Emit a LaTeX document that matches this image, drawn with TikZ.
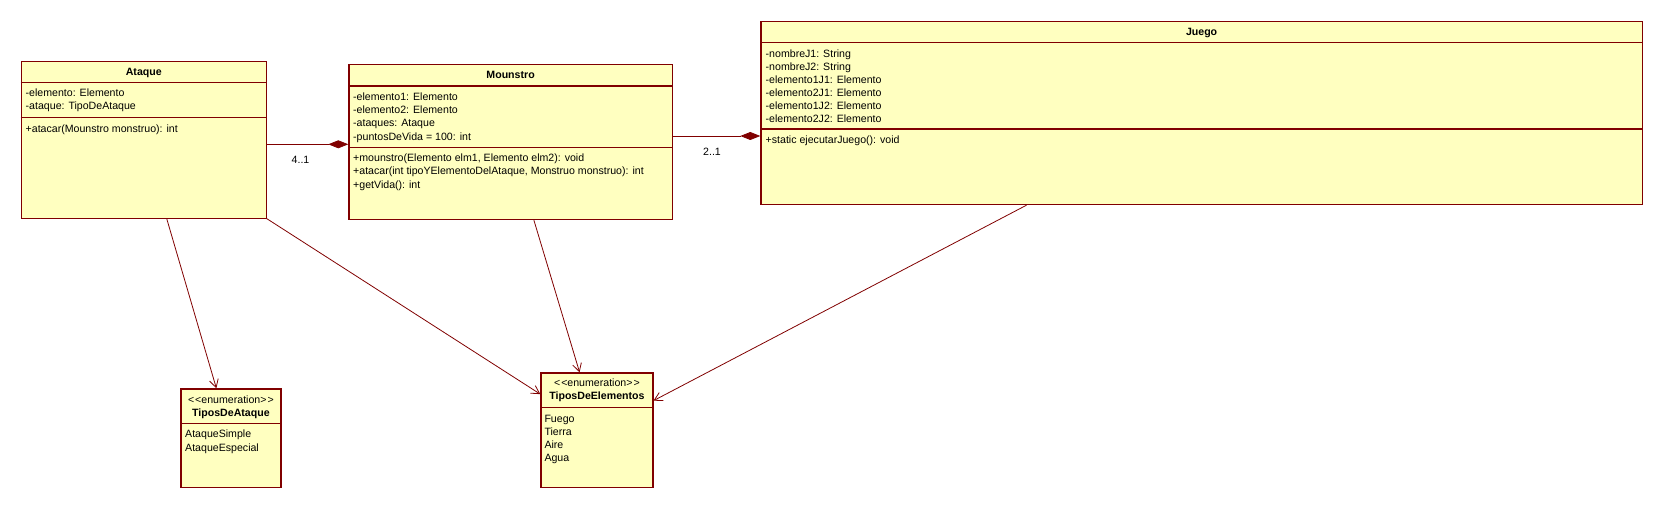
\documentclass[tikz,border=0pt]{standalone}
\usepackage{fontspec}
\setmainfont{Liberation Sans}
\usetikzlibrary{arrows.meta}
\definecolor{umlred}{RGB}{128,0,0}
\definecolor{umlfill}{RGB}{255,255,192}
\begin{document}
\begin{tikzpicture}[x=1pt, y=-1pt,
  cls/.style={draw=umlred, fill=umlfill, line width=1.2pt, inner sep=0pt, anchor=north west},
  sep/.style={umlred, line width=1.2pt},
  txt/.style={inner sep=0pt, anchor=west, text height=7.6pt, text depth=0pt, font=\fontsize{10.6pt}{13pt}\selectfont},
  ttl/.style={txt, anchor=center, font=\fontsize{10.6pt}{13pt}\selectfont\bfseries},
  dep/.style={umlred, line width=0.8pt, -{Straight Barb[length=8pt 0, width=9pt 0]}},
  comp/.style={umlred, line width=0.8pt, -{Diamond[length=20pt 0, width=8pt 0]}}]
  \useasboundingbox (0,0) rectangle (1662,508);

  \node[cls, minimum width=245pt, minimum height=157.3pt] (AT) at (20.7,60.7) {};
  \node[cls, minimum width=323.4pt, minimum height=154.7pt] (MO) at (348.3,64.3) {};
  \node[cls, minimum width=881.4pt, minimum height=183.3pt] (JU) at (760.3,20.7) {};
  \node[cls, minimum width=100pt, minimum height=98.7pt] (TDA) at (180.3,388.3) {};
  \node[cls, minimum width=112pt, minimum height=114.7pt] (TDE) at (540.3,372.3) {};

  \draw[sep] (AT.west |- 0,82.3) -- (AT.east |- 0,82.3);
  \draw[sep] (AT.west |- 0,117.3) -- (AT.east |- 0,117.3);
  \draw[sep] (MO.west |- 0,86) -- (MO.east |- 0,86);
  \draw[sep] (MO.west |- 0,147.3) -- (MO.east |- 0,147.3);
  \draw[sep] (JU.west |- 0,42.3) -- (JU.east |- 0,42.3);
  \draw[sep] (JU.west |- 0,129) -- (JU.east |- 0,129);
  \draw[sep] (TDA.west |- 0,423.3) -- (TDA.east |- 0,423.3);
  \draw[sep] (TDE.west |- 0,407.3) -- (TDE.east |- 0,407.3);

  \node[ttl] (AT-t) at (AT.north |- 0,71.3) {Ataque};
  \node[txt] (AT-a1) at (25.5,92.7) {-elemento: Elemento};
  \node[txt] (AT-a2) at (25.5,106) {-ataque: TipoDeAtaque};
  \node[txt] (AT-m1) at (25.5,128.7) {+atacar(Mounstro monstruo): int};

  \node[ttl] (MO-t) at (MO.north |- 0,75) {Mounstro};
  \node[txt] (MO-a1) at (353,97) {-elemento1: Elemento};
  \node[txt] (MO-a2) at (353,110) {-elemento2: Elemento};
  \node[txt] (MO-a3) at (353,123) {-ataques: Ataque};
  \node[txt] (MO-a4) at (353,136.3) {-puntosDeVida = 100: int};
  \node[txt] (MO-m1) at (353,158) {+mounstro(Elemento elm1, Elemento elm2): void};
  \node[txt] (MO-m2) at (353,171) {+atacar(int tipoYElementoDelAtaque, Monstruo monstruo): int};
  \node[txt] (MO-m3) at (353,184.3) {+getVida(): int};

  \node[ttl] (JU-t) at (JU.north |- 0,31.5) {Juego};
  \node[txt] (JU-a1) at (765.5,53.3) {-nombreJ1: String};
  \node[txt] (JU-a2) at (765.5,66.3) {-nombreJ2: String};
  \node[txt] (JU-a3) at (765.5,79.3) {-elemento1J1: Elemento};
  \node[txt] (JU-a4) at (765.5,92.3) {-elemento2J1: Elemento};
  \node[txt] (JU-a5) at (765.5,105.3) {-elemento1J2: Elemento};
  \node[txt] (JU-a6) at (765.5,118.3) {-elemento2J2: Elemento};
  \node[txt] (JU-m1) at (765.5,140) {+static ejecutarJuego(): void};

  \node[txt, anchor=center] (TDA-s) at (TDA.north |- 0,399.3) {<\kern1pt<enumeration>\kern1pt>};
  \node[ttl] (TDA-t) at (TDA.north |- 0,412.3) {TiposDeAtaque};
  \node[txt] (TDA-v1) at (185,434) {AtaqueSimple};
  \node[txt] (TDA-v2) at (185,447.3) {AtaqueEspecial};

  \node[txt, anchor=center] (TDE-s) at (TDE.north |- 0,382.7) {<\kern1pt<enumeration>\kern1pt>};
  \node[ttl] (TDE-t) at (TDE.north |- 0,396) {TiposDeElementos};
  \node[txt] (TDE-v1) at (544.3,418.3) {Fuego};
  \node[txt] (TDE-v2) at (544.3,431.3) {Tierra};
  \node[txt] (TDE-v3) at (544.3,444.3) {Aire};
  \node[txt] (TDE-v4) at (544.3,457.3) {Agua};

  \draw[comp] (AT.east |- 0,144.3) -- (MO.west |- 0,144.3);
  \draw[comp] (MO.east |- 0,136) -- (JU.west |- 0,136);
  \node[txt, anchor=center] (M41) at (300.5,160) {4..1};
  \node[txt, anchor=center] (M21) at (712,152) {2..1};

  \draw[dep] (AT) -- (TDA);
  \draw[dep] (AT) -- (TDE);
  \draw[dep] (MO) -- (TDE);
  \draw[dep] (JU) -- (TDE);
\end{tikzpicture}
\end{document}
